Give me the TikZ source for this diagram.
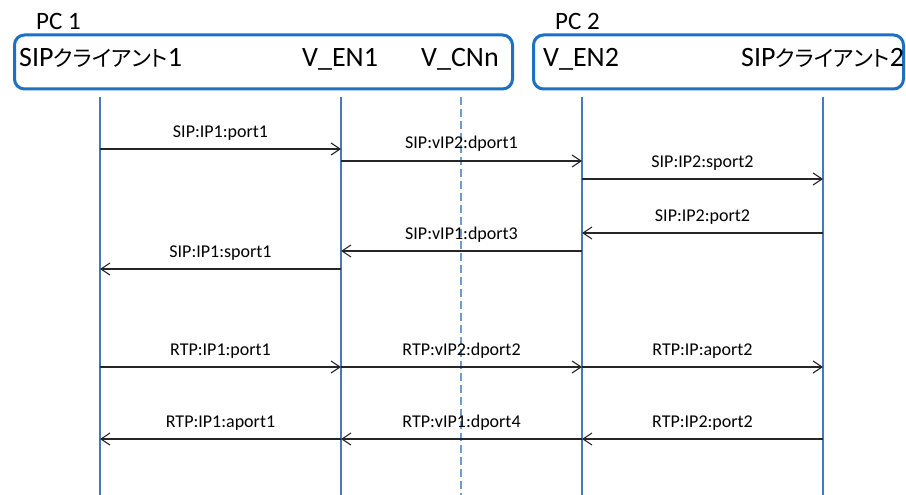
\documentclass[tikz,border=0pt]{standalone}
\usepackage{fontspec}
\setmainfont{Carlito}
\newfontfamily\jp[RawFeature=+palt]{Noto Sans CJK JP}
\usetikzlibrary{arrows.meta}

\definecolor{boxblue}{RGB}{31,112,193}
\definecolor{lifeblue}{RGB}{72,120,190}
\definecolor{dashblue}{RGB}{110,155,210}

\tikzset{
  pcbox/.style={draw=boxblue, line width=3pt, rounded corners=10pt, inner sep=0pt},
  pclabel/.style={anchor=base west, inner sep=0pt, font=\fontsize{25}{30}\selectfont},
  head/.style={anchor=base west, inner sep=0pt, font=\fontsize{28}{32}\selectfont},
  lifeline/.style={draw=lifeblue, line width=2pt},
  cnline/.style={draw=dashblue, line width=1.6pt, dash pattern=on 8pt off 4pt},
  msg/.style={draw=black!85, line width=1.2pt,
    -{Straight Barb[length=9pt, width=12pt, line width=1.1pt]}},
  lbl/.style={anchor=base, inner sep=0pt, yshift=12pt,
    font=\fontsize{18}{20}\selectfont}
}
\newcommand\kana[1]{{\jp\fontsize{22}{26}\selectfont #1}}

\begin{document}
\begin{tikzpicture}[x=1pt, y=-1pt]
  \useasboundingbox (0,0) rectangle (906,495);

  % PC frames and their titles
  \node (pc1) [pcbox, minimum width=498pt, minimum height=54pt] at (263.5,62) {};
  \node (pc2) [pcbox, minimum width=370pt, minimum height=54pt] at (718.5,62) {};
  \node (pc1t) [pclabel] at (36,30) {PC 1};
  \node (pc2t) [pclabel] at (555,30) {PC 2};

  % participant names
  \node (h1) [head] at (19,67) {SIP\kana{クライアント}1};
  \node (h2) [head] at (302,67) {V\_EN1};
  \node (h3) [head] at (421,67) {V\_CNn};
  \node (h4) [head] at (543,67) {V\_EN2};
  \node (h5) [head] at (741,67) {SIP\kana{クライアント}2};

  % lifelines
  \coordinate (c1) at (100,97);  \coordinate (c1b) at (100,495);
  \coordinate (e1) at (341,97);  \coordinate (e1b) at (341,495);
  \coordinate (cn) at (461,97);  \coordinate (cnb) at (461,495);
  \coordinate (e2) at (582,97);  \coordinate (e2b) at (582,495);
  \coordinate (c2) at (823,97);  \coordinate (c2b) at (823,495);
  \draw[lifeline] (c1) -- (c1b);
  \draw[lifeline] (e1) -- (e1b);
  \draw[cnline]   (cn) -- (cnb);
  \draw[lifeline] (e2) -- (e2b);
  \draw[lifeline] (c2) -- (c2b);

  % SIP signalling
  \draw[msg] (c1 |- 0,149) -- node[lbl] {SIP:IP1:port1} (e1 |- 0,149);
  \draw[msg] (e1 |- 0,161) -- node[lbl] {SIP:vIP2:dport1} (e2 |- 0,161);
  \draw[msg] (e2 |- 0,179) -- node[lbl] {SIP:IP2:sport2} (c2 |- 0,179);
  \draw[msg] (c2 |- 0,233) -- node[lbl] {SIP:IP2:port2} (e2 |- 0,233);
  \draw[msg] (e2 |- 0,251) -- node[lbl] {SIP:vIP1:dport3} (e1 |- 0,251);
  \draw[msg] (e1 |- 0,269) -- node[lbl] {SIP:IP1:sport1} (c1 |- 0,269);

  % RTP media
  \draw[msg] (c1 |- 0,367) -- node[lbl] {RTP:IP1:port1} (e1 |- 0,367);
  \draw[msg] (e1 |- 0,367) -- node[lbl] {RTP:vIP2:dport2} (e2 |- 0,367);
  \draw[msg] (e2 |- 0,367) -- node[lbl] {RTP:IP:aport2} (c2 |- 0,367);
  \draw[msg] (c2 |- 0,439) -- node[lbl] {RTP:IP2:port2} (e2 |- 0,439);
  \draw[msg] (e2 |- 0,439) -- node[lbl] {RTP:vIP1:dport4} (e1 |- 0,439);
  \draw[msg] (e1 |- 0,439) -- node[lbl] {RTP:IP1:aport1} (c1 |- 0,439);
\end{tikzpicture}
\end{document}
